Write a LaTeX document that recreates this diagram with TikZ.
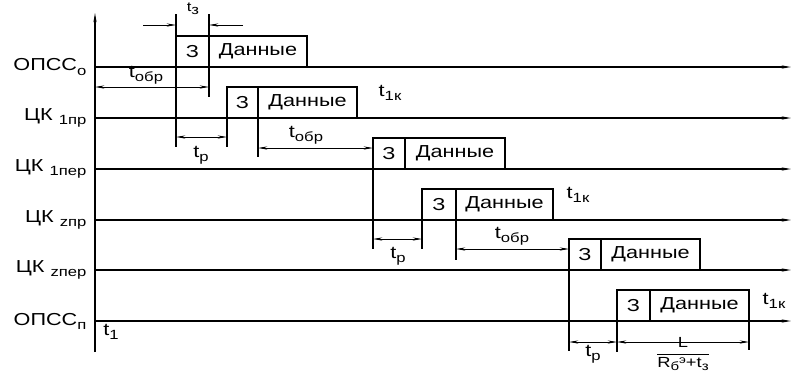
\documentclass[tikz,border=0pt]{standalone}
\usepackage{amsmath}
\usepackage{fontspec}
\setmainfont{Liberation Sans}[FakeStretch=1.25]
\usetikzlibrary{arrows.meta}
\newcommand\lowsub[1]{\raisebox{-0.45ex}{\fontsize{10}{11}\selectfont #1}}
\newcommand\fracsub[1]{\raisebox{-0.3ex}{\fontsize{9}{10}\selectfont #1}}
\newcommand\highsup[1]{\raisebox{0.6ex}{\fontsize{8}{9}\selectfont #1}}
\begin{document}
\begin{tikzpicture}[x=0.75pt,y=-0.75pt,
  >={Stealth[length=7pt,width=2.4pt]},
  sig/.style={line width=0.9pt,->},
  ext/.style={line width=0.9pt},
  dim/.style={line width=0.6pt,<->},
  cell/.style={draw,line width=1.6pt,minimum height=23.25pt,inner sep=0pt,outer sep=0pt,
    anchor=south west,font=\fontsize{13}{14}\selectfont},
  lab/.style={font=\fontsize{13}{14}\selectfont,inner sep=1pt}]
\useasboundingbox (0,0) rectangle (792,376);

% axis
\coordinate (ax0) at (95,352);
\coordinate (ax1) at (95,13);
\draw[line width=0.8pt,->] (ax0) -- (ax1);

% signal lines
\foreach \i/\y in {1/67,2/118,3/169,4/220,5/270,6/321}{
  \coordinate (s\i) at (95,\y);
  \coordinate (e\i) at (791,\y);
  \draw[sig] (s\i) -- (e\i);
}

% left labels
\node[lab,anchor=east] (n1) at (88,67) {ОПСС\lowsub{о}};
\node[lab,anchor=east] (n2) at (88,118) {ЦК \lowsub{1пр}};
\node[lab,anchor=east] (n3) at (88,169) {ЦК \lowsub{1пер}};
\node[lab,anchor=east] (n4) at (88,220) {ЦК \lowsub{zпр}};
\node[lab,anchor=east] (n5) at (88,270) {ЦК \lowsub{zпер}};
\node[lab,anchor=east] (n6) at (88,321) {ОПСС\lowsub{п}};

% boxes
\node[cell,minimum width=24.75pt] (z1) at (176,67) {З};
\node[cell,minimum width=73.5pt] (d1) at (z1.south east) {Данные};
\node[cell,minimum width=23.25pt] (z2) at (227,118) {З};
\node[cell,minimum width=74.25pt] (d2) at (z2.south east) {Данные};
\node[cell,minimum width=24pt] (z3) at (373,169) {З};
\node[cell,minimum width=75pt] (d3) at (z3.south east) {Данные};
\node[cell,minimum width=25.5pt] (z4) at (422,220) {З};
\node[cell,minimum width=72.75pt] (d4) at (z4.south east) {Данные};
\node[cell,minimum width=24pt] (z5) at (569,270) {З};
\node[cell,minimum width=74.25pt] (d5) at (z5.south east) {Данные};
\node[cell,minimum width=24.75pt] (z6) at (617,321) {З};
\node[cell,minimum width=74.25pt] (d6) at (z6.south east) {Данные};

% level coordinates
\foreach \y in {25,87,137,148,239,249,342}{\coordinate (y\y) at (0,\y);}

% t_z (top)
\draw[ext] (z1.north west) -- ++(0,-22) coordinate (tz1);
\draw[ext] (d1.north west) -- ++(0,-22) coordinate (tz2);
\coordinate (tzL) at (143,25);
\coordinate (tzR) at (243,25);
\draw[line width=0.6pt,->] (tzL) -- (tz1 |- y25);
\draw[line width=0.6pt,->] (tzR) -- (tz2 |- y25);
\node[lab,font=\fontsize{10}{11}\selectfont] (ltz) at (193,9) {t\lowsub{з}};

% first group
\draw[ext] (z1.south west) -- ++(0,80) coordinate (x1);
\draw[ext] (d1.south west) -- ++(0,30) coordinate (x2);
\draw[dim] (ax0 |- y87) -- (x2 |- y87);
\node[lab] (lobr1) at (146,75) {t\lowsub{обр}};
\draw[ext] (z2.south west) -- ++(0,29) coordinate (x3);
\draw[dim] (x1 |- y137) -- (x3 |- y137);
\node[lab] (lp1) at (201,155) {t\lowsub{p}};
\draw[ext] (d2.south west) -- ++(0,39) coordinate (x4);
\draw[dim] (x4 |- y148) -- (z3.south west |- y148);
\node[lab] (lobr2) at (306,135) {t\lowsub{обр}};
\node[lab] (lk1) at (390,93) {t\lowsub{1к}};

% second group
\draw[ext] (z3.south west) -- ++(0,80) coordinate (x5);
\draw[ext] (z4.south west) -- ++(0,29) coordinate (x6);
\draw[dim] (x5 |- y239) -- (x6 |- y239);
\node[lab] (lp2) at (398,256) {t\lowsub{p}};
\draw[ext] (d4.south west) -- ++(0,40) coordinate (x7);
\draw[dim] (x7 |- y249) -- (z5.south west |- y249);
\node[lab] (lobr3) at (512,236) {t\lowsub{обр}};
\node[lab] (lk2) at (578,195) {t\lowsub{1к}};

% third group
\draw[ext] (z5.south west) -- ++(0,81) coordinate (x8);
\draw[ext] (z6.south west) -- ++(0,31) coordinate (x9);
\draw[ext] (d6.south east) -- ++(0,29) coordinate (x10);
\draw[dim] (x8 |- y342) -- (x9 |- y342);
\draw[dim] (x9 |- y342) -- (x10 |- y342);
\node[lab] (lp3) at (593,354) {t\lowsub{p}};
\node[lab,font=\fontsize{11}{12}\selectfont] (lfr) at (683,354)
  {$\dfrac{\mbox{L}}{\mbox{R\fracsub{б}\highsup{э}+t\fracsub{з}}}$};
\node[lab] (lk3) at (774,301) {t\lowsub{1к}};

\node[lab] (lt1) at (111,332) {t\lowsub{1}};
\end{tikzpicture}
\end{document}
